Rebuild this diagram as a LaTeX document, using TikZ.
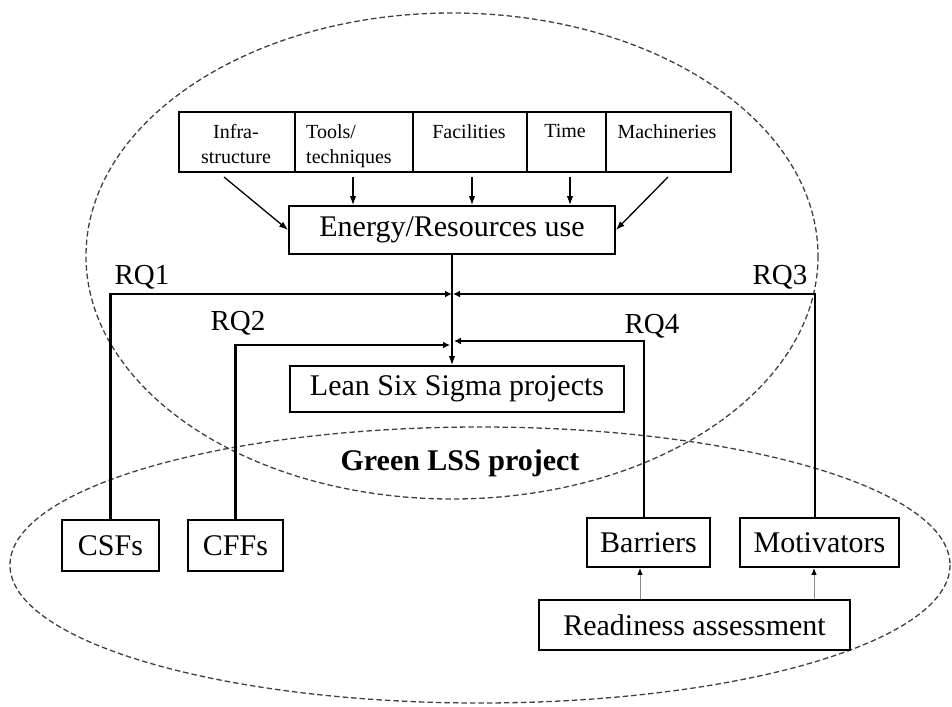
\documentclass[tikz,border=0pt]{standalone}
\usepackage{fontspec}
\setmainfont{Liberation Serif}
\usetikzlibrary{arrows.meta}
\begin{document}
\begin{tikzpicture}[x=1pt,y=-1pt,
  box/.style={draw=black, line width=1.8pt, inner sep=0pt, font=\fontsize{30}{36}\selectfont},
  topbox/.style={draw=black, line width=1.8pt, inner sep=0pt, minimum height=60pt},
  smalltxt/.style={inner sep=0pt, font=\fontsize{20}{25}\selectfont},
  zone/.style={draw=black!75, line width=1.3pt, dash pattern=on 5.5pt off 3pt},
  feed/.style={line width=1.3pt, -{Latex[length=9pt,width=6.5pt]}},
  rq/.style={line width=2.5pt, -{Latex[length=7pt,width=7pt]}},
  rqlabel/.style={inner sep=0pt, font=\fontsize{29}{34}\selectfont},
  assess/.style={draw=black!45, line width=1pt, -{Latex[length=7pt,width=5.5pt,color=black]}}
]
\useasboundingbox (0,0) rectangle (952,706);

% the two dashed zones
\draw[zone] (452,256) ellipse [x radius=366, y radius=243];
\draw[zone] (480,565) ellipse [x radius=470, y radius=138];

% resource boxes along the top
\node[topbox, minimum width=116pt] (infra) at (237,142) {};
\node[topbox, minimum width=119pt] (tools) at (354,142) {};
\node[topbox, minimum width=114pt] (fac)   at (470,142) {};
\node[topbox, minimum width=79pt]  (time)  at (566.5,142) {};
\node[topbox, minimum width=125pt] (mach)  at (668.5,142) {};

\node[smalltxt, align=center, anchor=north] (infrat) at (236,124) {Infra-\\structure};
\node[smalltxt, align=left, anchor=north west] (toolst) at (306,124) {Tools/\\techniques};
\node[smalltxt, anchor=north] (fact)  at (469,124) {Facilities};
\node[smalltxt, anchor=north] (timet) at (565,124) {Time};
\node[smalltxt, anchor=north] (macht) at (667,124) {Machineries};

% central chain
\node[box, minimum width=326pt, minimum height=48pt] (energy) at (452,230) {Energy/Resources use};
\node[box, minimum width=334pt, minimum height=46pt] (lean) at (457,389) {Lean Six Sigma projects};

% factor boxes
\node[box, minimum width=97pt, minimum height=51pt] (csf) at (110.5,545.5) {CSFs};
\node[box, minimum width=95pt, minimum height=51pt] (cff) at (235.5,545.5) {CFFs};
\node[box, minimum width=123pt, minimum height=49pt] (bar) at (648.5,542.5) {Barriers};
\node[box, minimum width=159pt, minimum height=49pt] (mot) at (819.5,542.5) {Motivators};
\node[box, minimum width=311pt, minimum height=50pt] (ready) at (694.5,625) {Readiness assessment};

\node[font=\fontsize{30}{36}\selectfont\bfseries, inner sep=0pt, anchor=base] (green) at (460,470) {Green LSS project};

% resources feeding energy use
\coordinate (infs) at (224,177);
\coordinate (machs) at (668,177);
\draw[feed] (infs) -- (energy.west);
\draw[feed] (machs) -- (energy.east);
\coordinate (tx) at (353,177);
\coordinate (fx) at (472,177);
\coordinate (mx) at (570,177);
\draw[feed] (tx) -- (tx |- energy.north);
\draw[feed] (fx) -- (fx |- energy.north);
\draw[feed] (mx) -- (mx |- energy.north);

\draw[feed] (energy.south) -- (energy.south |- lean.north);

% research question links
\coordinate (h1l) at (452,294);
\coordinate (h1r) at (453,294);
\coordinate (h2) at (450,345);
\coordinate (h4) at (454,341);
\coordinate (barx) at (644,0);
\coordinate (motx) at (815,0);
\draw[rq] (csf.north) |- (h1l);
\draw[rq] (motx |- mot.north) |- (h1r);
\draw[rq] (cff.north) |- (h2);
\draw[rq] (barx |- bar.north) |- (h4);

\node[rqlabel] (rq1) at (142,277) {RQ1};
\node[rqlabel] (rq3) at (780,277) {RQ3};
\node[rqlabel] (rq2) at (238,323) {RQ2};
\node[rqlabel] (rq4) at (652,326) {RQ4};

% readiness assessment feeding barriers and motivators
\coordinate (ab) at (640,0);
\coordinate (am) at (814,0);
\draw[assess] (ab |- ready.north) -- (ab |- bar.south);
\draw[assess] (am |- ready.north) -- (am |- mot.south);
\end{tikzpicture}
\end{document}
